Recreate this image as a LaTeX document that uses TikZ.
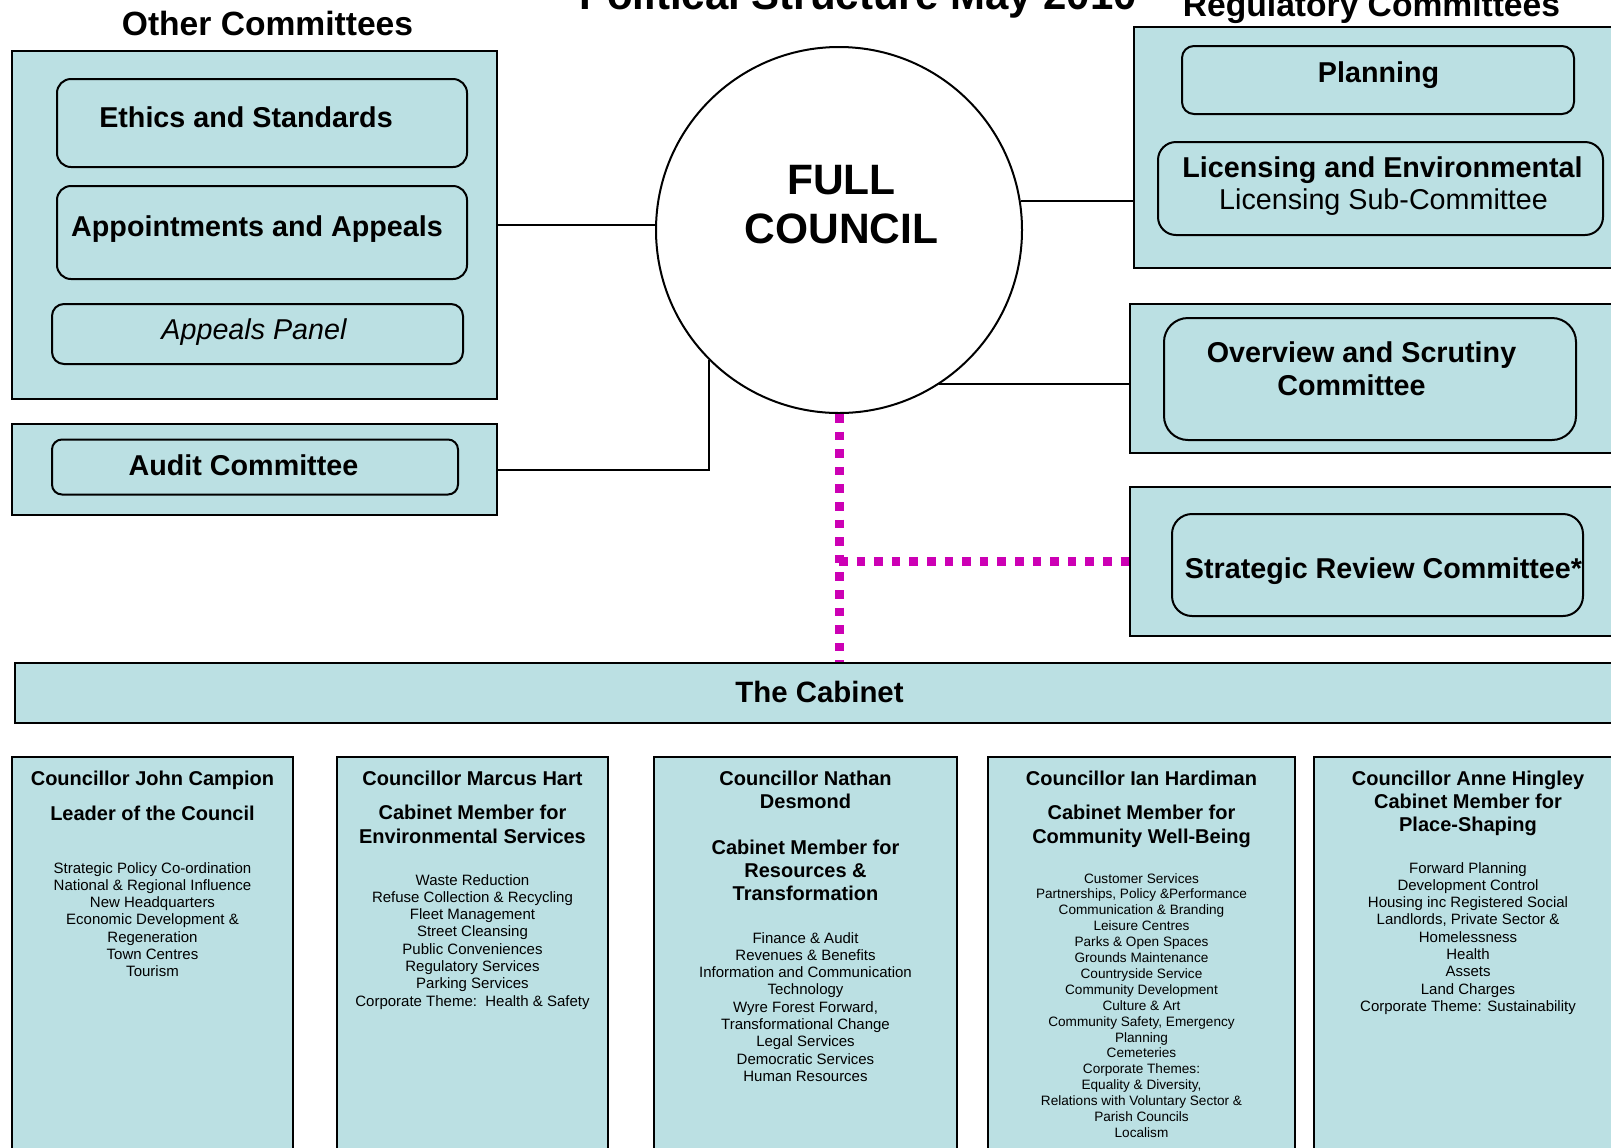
\documentclass[tikz,border=0pt]{standalone}
\usepackage{fontspec}
\setmainfont{Liberation Sans}
\definecolor{boxblue}{RGB}{187,224,227}
\definecolor{dotmag}{RGB}{204,0,180}
\newcommand\fComm{\fontsize{14.35}{17}\selectfont\bfseries}
\newcommand\fHead{\fontsize{16.8}{20}\selectfont\bfseries}
\newcommand\fName{\fontsize{10}{11.5}\selectfont\bfseries}
\newcommand\fItem{\fontsize{7.5}{8.65}\selectfont}
\newcommand\fItemS{\fontsize{6.8}{7.95}\selectfont}
\begin{document}
\begin{tikzpicture}[x=0.5pt,y=-0.5pt,
  outerbox/.style={draw=black, line width=1pt, fill=boxblue, rectangle, inner sep=0pt},
  roundbox/.style={draw=black, line width=1pt, fill=boxblue, rectangle, rounded corners=#1, inner sep=0pt},
  roundbox/.default=7pt,
  txt/.style={anchor=base, inner sep=0pt, align=center},
  conn/.style={draw=black, line width=1pt},
  magdot/.style={draw=dotmag, line width=4.5pt, dash pattern=on 4.3pt off 4.5pt}]
\useasboundingbox (0,0) rectangle (1611,1147);
\clip (0,0) rectangle (1611,1147);

% title and headings
\node[txt] (title) at (858,9) {\fontsize{21}{24}\selectfont\bfseries Political Structure May 2010};
\node[txt] (otherhead) at (267.5,35.5) {\fHead Other Committees};
\node[txt] (reghead) at (1371.5,16) {\fHead Regulatory Committees};

% other committees
\node[outerbox, minimum width=242.5pt, minimum height=174pt] (other) at (254.5,225) {};
\node[roundbox, minimum width=205pt, minimum height=44pt] (ethics) at (262,123) {};
\node[roundbox, minimum width=205pt, minimum height=46.5pt] (appoint) at (262,232.5) {};
\node[roundbox=6pt, minimum width=205.5pt, minimum height=30pt] (appeals) at (257.5,334) {};
\node[txt] (ethicst) at (246,127) {\fComm Ethics and Standards};
\node[txt] (appointt) at (257,236) {\fComm Appointments and Appeals};
\node[txt] (appealst) at (254,339) {\fontsize{14.35}{17}\selectfont\itshape Appeals Panel};

% audit
\node[outerbox, minimum width=242.5pt, minimum height=45.5pt] (auditout) at (254.5,469.5) {};
\node[roundbox=5pt, minimum width=203pt, minimum height=27.5pt] (audit) at (255,467) {};
\node[txt] (auditt) at (243.5,475) {\fComm Audit Committee};

% full council
\node[circle, draw=black, line width=1pt, fill=white, minimum size=183pt, inner sep=0pt] (council) at (839,230) {};
\node[txt] (councilt) at (841.5,194) {\fontsize{21.25}{24.5}\selectfont\bfseries
  \begin{tabular}[t]{@{}c@{}}FULL\\COUNCIL\end{tabular}};

% regulatory
\node[outerbox, minimum width=258pt, minimum height=120.5pt] (reg) at (1392,147.5) {};
\node[roundbox=6pt, minimum width=196pt, minimum height=34pt] (planning) at (1378,80) {};
\node[roundbox=9pt, minimum width=222.5pt, minimum height=46.5pt] (licensing) at (1380.5,188.5) {};
\node[txt] (planningt) at (1378.5,82) {\fComm Planning};
\node[txt] (licensingt) at (1382.5,177) {\fComm Licensing and Environmental};
\node[txt] (licsubt) at (1383.5,209) {\fontsize{14.35}{17}\selectfont Licensing Sub-Committee};

% overview and scrutiny
\node[outerbox, minimum width=260pt, minimum height=74.5pt] (overout) at (1390,378.5) {};
\node[roundbox=12pt, minimum width=206pt, minimum height=61pt] (over) at (1370,379) {};
\node[txt] (overt1) at (1361.5,362) {\fComm Overview and Scrutiny};
\node[txt] (overt2) at (1351.5,395) {\fComm Committee};

% strategic review
\node[outerbox, minimum width=260pt, minimum height=74.5pt] (stratout) at (1390,561.5) {};
\node[roundbox=10pt, minimum width=205.5pt, minimum height=51pt] (strat) at (1377.5,565) {};
\node[txt] (stratt) at (1383.5,578) {\fComm Strategic Review Committee*};

% cabinet
\node[outerbox, minimum width=817.5pt, minimum height=30pt] (cabinet) at (832.5,693) {};
\node[txt] (cabinett) at (819.5,702) {\fontsize{14.7}{17}\selectfont\bfseries The Cabinet};

% cabinet members
\node[outerbox, minimum width=140.5pt, minimum height=206.5pt] (m1) at (152.5,963.5) {};
\node[outerbox, minimum width=135.5pt, minimum height=206.5pt] (m2) at (472.5,963.5) {};
\node[outerbox, minimum width=151.5pt, minimum height=206.5pt] (m3) at (805.5,963.5) {};
\node[outerbox, minimum width=153.5pt, minimum height=206.5pt] (m4) at (1141.5,963.5) {};
\node[outerbox, minimum width=154pt, minimum height=206.5pt] (m5) at (1468,963.5) {};

% member 1
\node[txt] (m1n) at (152.5,785) {\fName Councillor John Campion};
\node[txt] (m1r) at (152.5,820) {\fName Leader of the Council};
\node[txt] (m1i) at (152.5,873) {\fItem\begin{tabular}[t]{@{}c@{}}
Strategic Policy Co-ordination\\National \& Regional Influence\\New Headquarters\\
Economic Development \&\\Regeneration\\Town Centres\\Tourism\end{tabular}};

% member 2
\node[txt] (m2n) at (472.5,785) {\fName Councillor Marcus Hart};
\node[txt] (m2r) at (472.5,819) {\fontsize{10}{12}\selectfont\bfseries\begin{tabular}[t]{@{}c@{}}
Cabinet Member for\\Environmental Services\end{tabular}};
\node[txt] (m2i) at (472.5,885) {\fItem\begin{tabular}[t]{@{}c@{}}
Waste Reduction\\Refuse Collection \& Recycling\\Fleet Management\\Street Cleansing\\
Public Conveniences\\Regulatory Services\\Parking Services\\
Corporate Theme:\ \ Health \& Safety\end{tabular}};

% member 3
\node[txt] (m3n) at (805.5,785) {\fName\begin{tabular}[t]{@{}c@{}}
Councillor Nathan\\Desmond\\ \\Cabinet Member for\\Resources \&\\Transformation\end{tabular}};
\node[txt] (m3i) at (805.5,943) {\fItem\begin{tabular}[t]{@{}c@{}}
Finance \& Audit\\Revenues \& Benefits\\Information and Communication\\Technology\\
Wyre Forest Forward,\\Transformational Change\\Legal Services\\Democratic Services\\
Human Resources\end{tabular}};

% member 4
\node[txt] (m4n) at (1141.5,785) {\fName Councillor Ian Hardiman};
\node[txt] (m4r) at (1141.5,819) {\fontsize{10}{12}\selectfont\bfseries\begin{tabular}[t]{@{}c@{}}
Cabinet Member for\\Community Well-Being\end{tabular}};
\node[txt] (m4i) at (1141.5,883) {\fItemS\begin{tabular}[t]{@{}c@{}}
Customer Services\\Partnerships, Policy \&Performance\\Communication \& Branding\\
Leisure Centres\\Parks \& Open Spaces\\Grounds Maintenance\\Countryside Service\\
Community Development\\Culture \& Art\\Community Safety, Emergency\\Planning\\
Cemeteries\\Corporate Themes:\\Equality \& Diversity,\\
Relations with Voluntary Sector \&\\Parish Councils\\Localism\end{tabular}};

% member 5
\node[txt] (m5n) at (1468,785) {\fName\begin{tabular}[t]{@{}c@{}}
Councillor Anne Hingley\\Cabinet Member for\\Place-Shaping\end{tabular}};
\node[txt] (m5i) at (1468,873) {\fItem\begin{tabular}[t]{@{}c@{}}
Forward Planning\\Development Control\\Housing inc Registered Social\\
Landlords, Private Sector \&\\Homelessness\\Health\\Assets\\Land Charges\\
Corporate Theme: Sustainability\end{tabular}};

% connectors
\draw[conn] (other.east) -- (other.east -| council.west);
\draw[conn] (auditout.east) -| (council.225);
\draw[conn] (council.9.4) -- (council.9.4 -| reg.west);
\draw[conn] (council.-57.3) -- (council.-57.3 -| overout.west);
\draw[magdot] (council.south) -- (council.south |- cabinet.north);
\draw[magdot] (council.south |- stratout.west) -- (stratout.west);
\end{tikzpicture}
\end{document}
